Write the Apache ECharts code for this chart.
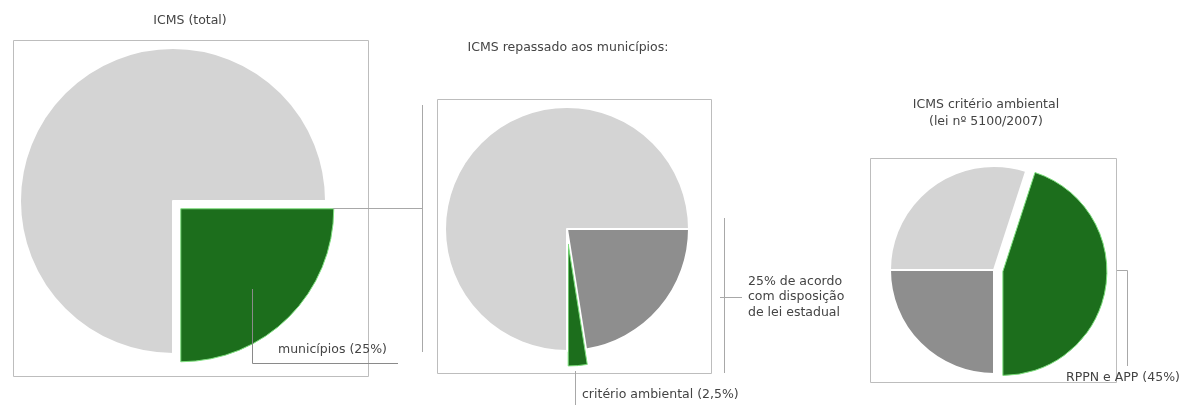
<!DOCTYPE html>
<html>
<head>
<meta charset="utf-8">
<script src="https://cdn.jsdelivr.net/npm/echarts@6/dist/echarts.min.js"></script>
<style>
html,body{margin:0;padding:0;background:#fff;}
#c{width:1186px;height:405px;}
</style>
</head>
<body>
<div id="c"></div>
<script>
// ---- data ----
var titles = ['ICMS (total)', 'ICMS repassado aos municípios:', 'ICMS critério ambiental\n(lei nº 5100/2007)'];
var totalNames = ['municípios', 'estado'];
var totalValues = [25, 75];
var repasseNames = ['demais critérios da lei estadual', 'critério ambiental', 'valor adicionado'];
var repasseValues = [22.5, 2.5, 75];
var ambientalNames = ['RPPN e APP', 'outros 1', 'outros 2'];
var ambientalValues = [45, 25, 30];
var labelTexts = ['municípios (25%)', 'critério ambiental (2,5%)', '25% de acordo\ncom disposição\nde lei estadual', 'RPPN e APP (45%)'];

var GREEN = '#1c6e1c', LIGHT = '#d4d4d4', DARK = '#8e8e8e';
var LINE = '#a8a8a8', BOX = '#bdbdbd', TXT = '#444';
var FONT = '"DejaVu Sans", sans-serif';
var FS = 12.5;

function mk(names, values, colors, selIdx) {
  return names.map(function (n, i) {
    return {
      name: n, value: values[i], selected: i === selIdx,
      itemStyle: { color: colors[i], borderColor: i === selIdx ? '#7fe07f' : '#fff', borderWidth: i === selIdx ? 1 : 2 }
    };
  });
}

var chart = echarts.init(document.getElementById('c'), null, { renderer: 'canvas' });

function line(pts, stroke) {
  return { type: 'polyline', silent: true, z: 100, shape: { points: pts }, style: { stroke: stroke || LINE, lineWidth: 1, fill: null } };
}
function box(x, y, w, h) {
  return { type: 'rect', silent: true, z: -1, shape: { x: x + 0.5, y: y + 0.5, width: w, height: h }, style: { stroke: BOX, lineWidth: 1, fill: null } };
}
function txt(x, y, s, align, lh) {
  return { type: 'text', silent: true, z: 100, x: x, y: y, style: { text: s, fill: TXT, font: FS + 'px ' + FONT, textAlign: align || 'left', textVerticalAlign: 'middle', lineHeight: lh || 15 } };
}

var common = {
  type: 'pie', clockwise: true, animation: false, silent: true,
  selectedMode: 'multiple',
  label: { show: false }, labelLine: { show: false },
  emphasis: { disabled: true }
};

chart.setOption({
  animation: false,
  backgroundColor: '#fff',
  series: [
    Object.assign({}, common, {
      center: [173, 201], radius: 153, startAngle: 0, selectedOffset: 11,
      data: mk(totalNames, totalValues, [GREEN, LIGHT], 0)
    }),
    Object.assign({}, common, {
      center: [567, 229], radius: 122, startAngle: 0, selectedOffset: 15,
      data: mk(repasseNames, repasseValues, [DARK, GREEN, LIGHT], 1)
    }),
    Object.assign({}, common, {
      center: [994, 270], radius: 104, startAngle: 72, selectedOffset: 9,
      data: mk(ambientalNames, ambientalValues, [GREEN, DARK, LIGHT], 0)
    })
  ],
  graphic: [
    box(13, 40, 355, 336),
    box(437, 99, 274, 274),
    box(870, 158, 246, 224),
    txt(190, 21, titles[0], 'center'),
    txt(568, 48, titles[1], 'center'),
    txt(986, 113, titles[2], 'center', 17),
    // chart 1 connector and label leader
    line([[333, 208.5], [422.5, 208.5]]),
    line([[422.5, 105], [422.5, 352]]),
    line([[252.5, 289], [252.5, 363.5], [398, 363.5]], '#8a8a8a'),
    txt(278, 350, labelTexts[0]),
    // chart 2 bracket and label leader
    line([[724.5, 218], [724.5, 373]]),
    line([[720, 297.5], [742, 297.5]]),
    txt(748, 297, labelTexts[2], 'left', 15.5),
    line([[575.5, 371], [575.5, 405]]),
    txt(582, 395, labelTexts[1]),
    // chart 3 leader
    line([[1117, 270.5], [1127.5, 270.5], [1127.5, 366]]),
    txt(1066, 378, labelTexts[3])
  ]
});
</script>
</body>
</html>
